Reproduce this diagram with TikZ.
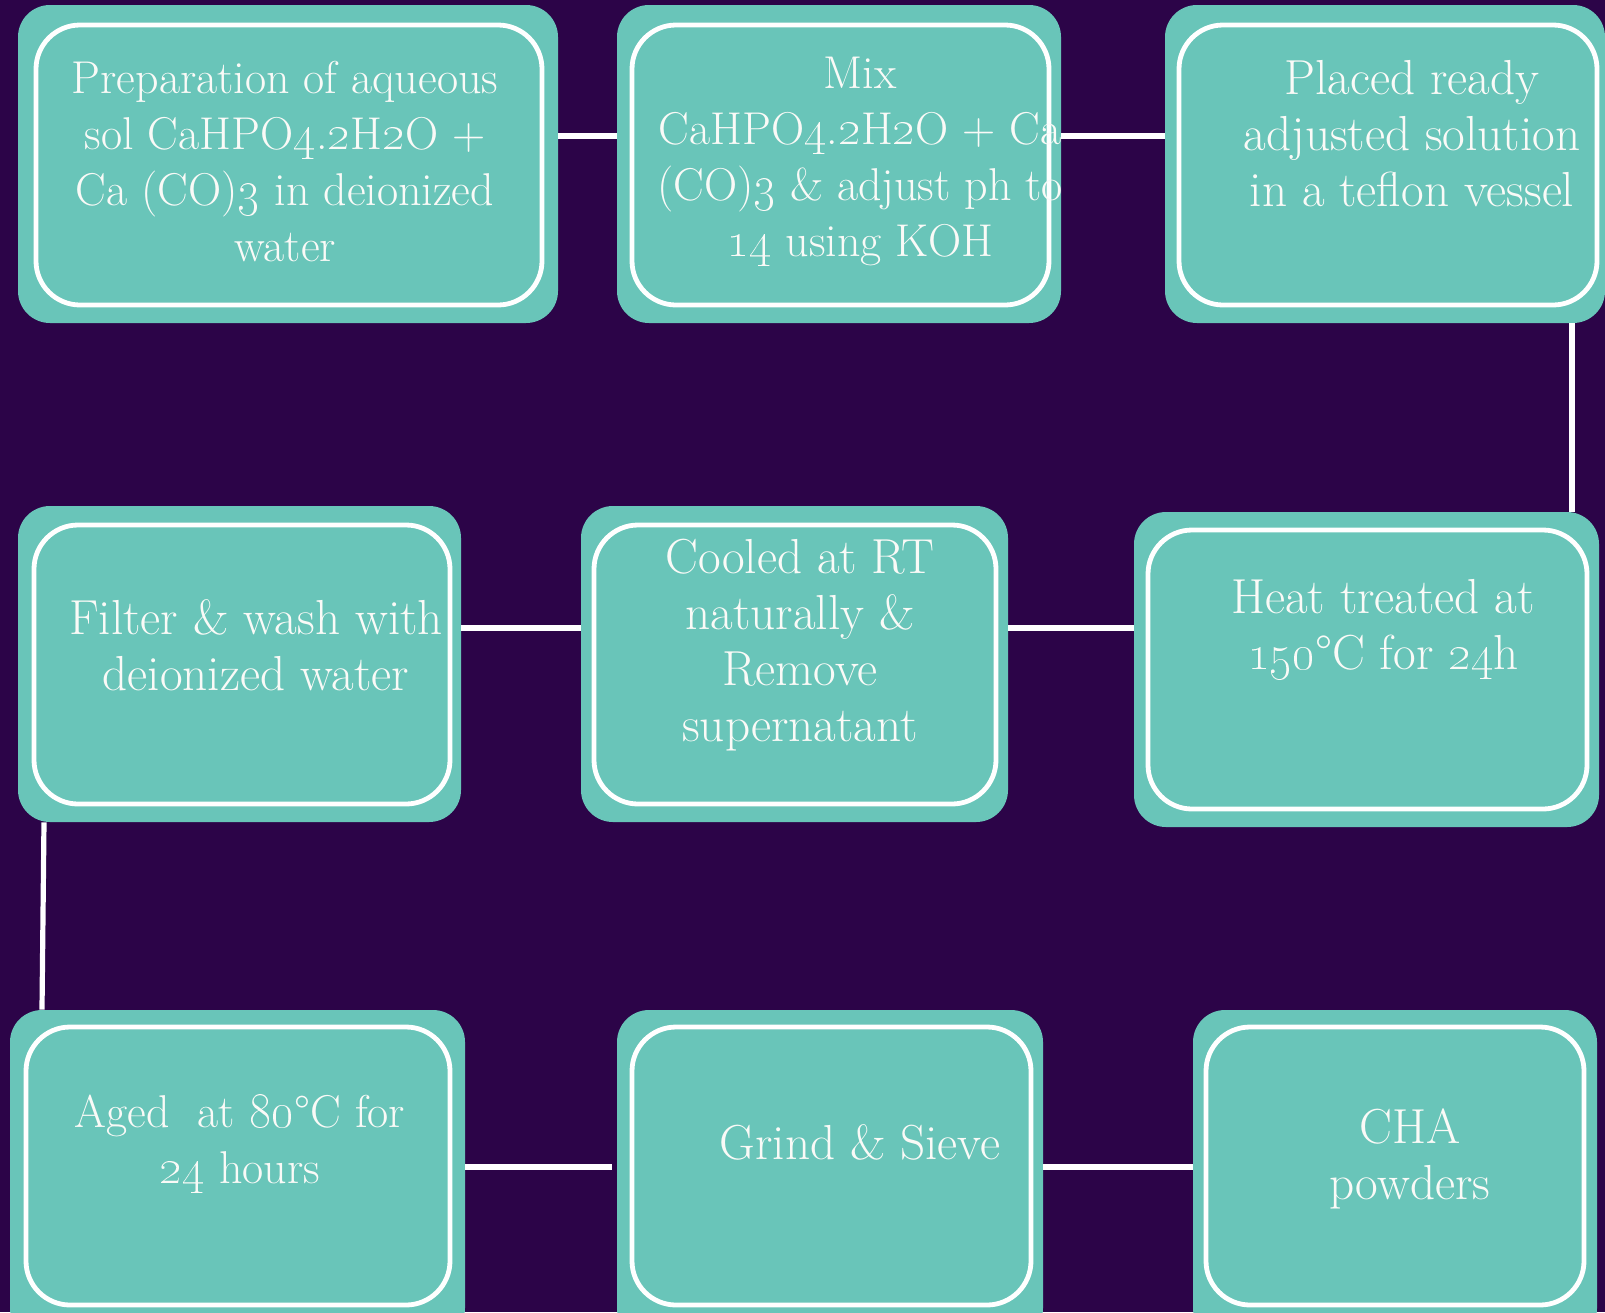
\documentclass[tikz,border=0pt]{standalone}
\usetikzlibrary{fit}
\definecolor{bgpurple}{HTML}{2C0448}
\definecolor{tealbox}{HTML}{69C5B9}
\definecolor{txtwhite}{HTML}{FAFAF7}
\newcommand{\osn}[1]{\oldstylenums{#1}}
\begin{document}
\begin{tikzpicture}[x=0.5pt,y=-0.5pt,
  outerbox/.style={fill=tealbox, draw=none, rounded corners=16pt, inner sep=0pt},
  innerbox/.style={draw=white, line width=2.4pt, rounded corners=22pt, inner sep=0pt},
  boxtext/.style={text=txtwhite, align=center, font=\fontsize{23}{28}\selectfont, inner sep=0pt},
  bigtext/.style={boxtext, font=\fontsize{24.6}{28}\selectfont},
  conn/.style={draw=white, line width=2.6pt}]
\useasboundingbox (0,0) rectangle (1605,1312);
\fill[bgpurple] (0,0) rectangle (1605,1312);

% ---- outer boxes
\node[outerbox, fit={(18,5) (558,323)}] (A) {};
\node[outerbox, fit={(617,5) (1061,323)}] (B) {};
\node[outerbox, fit={(1165,5) (1605,323)}] (C) {};
\node[outerbox, fit={(18,506) (461,822)}] (D) {};
\node[outerbox, fit={(581,506) (1008,822)}] (E) {};
\node[outerbox, fit={(1134,512) (1599,827)}] (F) {};
\node[outerbox, fit={(10,1010) (465,1340)}] (G) {};
\node[outerbox, fit={(617,1010) (1043,1340)}] (H) {};
\node[outerbox, fit={(1193,1010) (1597,1340)}] (I) {};

% ---- inner white frames
\node[innerbox, fit={(36,25) (542,305)}] (Ai) {};
\node[innerbox, fit={(632,25) (1049,305)}] (Bi) {};
\node[innerbox, fit={(1179,25) (1597,305)}] (Ci) {};
\node[innerbox, fit={(34,525) (450,804)}] (Di) {};
\node[innerbox, fit={(594,525) (996,804)}] (Ei) {};
\node[innerbox, fit={(1148,530) (1587,809)}] (Fi) {};
\node[innerbox, fit={(26,1027) (450,1305)}] (Gi) {};
\node[innerbox, fit={(632,1027) (1031,1305)}] (Hi) {};
\node[innerbox, fit={(1206,1027) (1584,1305)}] (Ii) {};

% ---- texts
\node[boxtext] (At) at (285,162) {Preparation of aqueous\\sol CaHPO\osn{4}.\osn{2}H\osn{2}O +\\Ca (CO)\osn{3} in deionized\\water};
\node[boxtext] (Bt) at (860,162) {Mix\\CaHPO\osn{4}.\osn{2}H\osn{2}O + Ca\\(CO)\osn{3} \& adjust ph to\\\osn{14} using KOH};
\node[bigtext] (Ct) at (1412,134) {Placed ready\\adjusted solution\\in a teflon vessel};
\node[bigtext] (Dt) at (256,645) {Filter \& wash with\\deionized water};
\node[bigtext] (Et) at (800,645) {Cooled at RT\\naturally \&\\Remove\\supernatant};
\node[bigtext] (Ft) at (1383,629) {Heat treated at\\\osn{150}°C for \osn{24}h};
\node[boxtext] (Gt) at (240,1144) {Aged\ \ at \osn{80}°C for\\\osn{24} hours};
\node[bigtext] (Ht) at (860,1142) {Grind \& Sieve};
\node[bigtext] (It) at (1410,1159) {CHA\\powders};

% ---- connector levels
\coordinate (row1) at (0,136);
\coordinate (row2) at (0,628);
\coordinate (row3) at (0,1167);
\coordinate (cf) at (1572,0);
\coordinate (dgtop) at (44,0);
\coordinate (dgbot) at (42,0);
\coordinate (ghend) at (612,1167);

\draw[conn] (A.east |- row1) -- (B.west |- row1);
\draw[conn] (B.east |- row1) -- (C.west |- row1);
\draw[conn] (C.south -| cf) -- (F.north -| cf);
\draw[conn] (F.west |- row2) -- (E.east |- row2);
\draw[conn] (E.west |- row2) -- (D.east |- row2);
\draw[conn] (D.south -| dgtop) -- (G.north -| dgbot);
\draw[conn] (G.east |- row3) -- (ghend);
\draw[conn] (H.east |- row3) -- (I.west |- row3);
\end{tikzpicture}
\end{document}
